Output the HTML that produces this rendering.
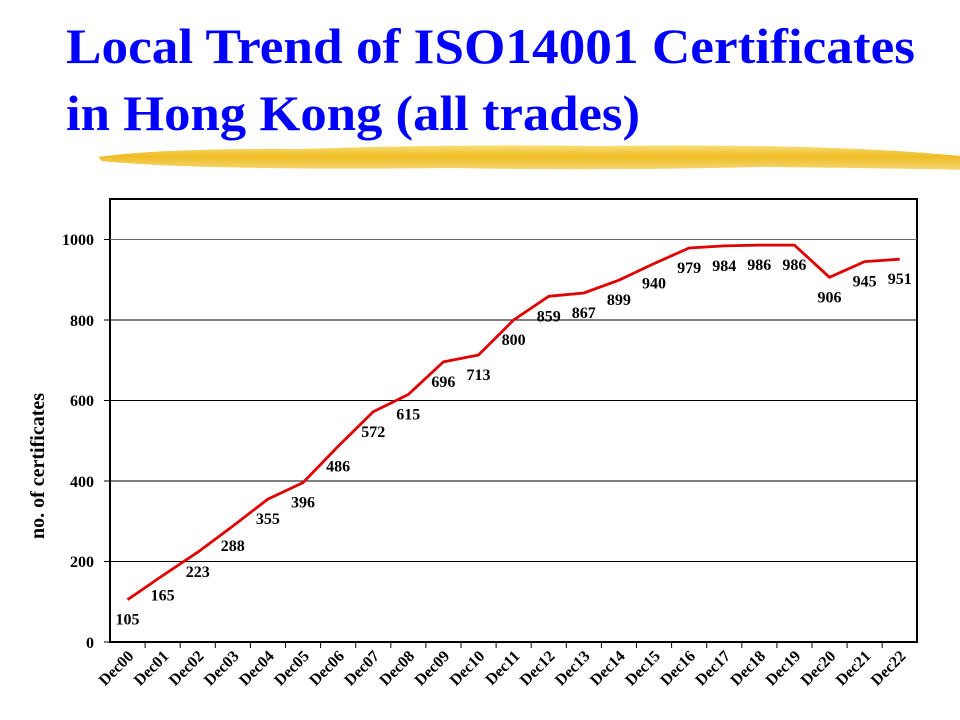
<!DOCTYPE html>
<html><head><meta charset="utf-8"><style>
html,body{margin:0;padding:0;background:#fff;}
svg{display:block;}
</style></head><body>
<svg width="960" height="720" viewBox="0 0 960 720" xmlns="http://www.w3.org/2000/svg">
<defs>
<linearGradient id="br" x1="0" y1="0" x2="0" y2="1">
<stop offset="0" stop-color="#f8dc70"/><stop offset="0.45" stop-color="#eeb818"/><stop offset="1" stop-color="#f5d670"/>
</linearGradient>
</defs>
<g font-family="'Liberation Serif',serif" font-weight="bold" fill="#0000ff" font-size="50">
<text x="66" y="63" textLength="849" lengthAdjust="spacingAndGlyphs">Local Trend of ISO14001 Certificates</text>
<text x="66" y="130" textLength="574" lengthAdjust="spacingAndGlyphs">in Hong Kong (all trades)</text>
</g>
<path d="M98,157 Q160,148 300,149 Q450,144 600,146 Q760,144 880,150 Q930,153 960,156 L960,170 Q880,168 760,167 Q600,171 450,168 Q300,170 180,166 Q130,164 102,161 Z" fill="url(#br)" opacity="0.95"/>
<rect x="110" y="199" width="807" height="443" fill="#fff" stroke="#000" stroke-width="2"/>
<g stroke="#000" stroke-width="1">
<line x1="110" y1="239.5" x2="917" y2="239.5" stroke="#666"/>
<line x1="110" y1="320" x2="917" y2="320"/>
<line x1="110" y1="400.5" x2="917" y2="400.5"/>
<line x1="110" y1="481" x2="917" y2="481"/>
<line x1="110" y1="561.5" x2="917" y2="561.5"/>
<line x1="104" y1="239.5" x2="110" y2="239.5"/><line x1="104" y1="320" x2="110" y2="320"/><line x1="104" y1="400.5" x2="110" y2="400.5"/><line x1="104" y1="481" x2="110" y2="481"/><line x1="104" y1="561.5" x2="110" y2="561.5"/><line x1="104" y1="642" x2="110" y2="642"/>
</g>
<g font-family="'Liberation Serif',serif" font-weight="bold" font-size="16" fill="#000" text-anchor="end">
<text x="94" y="245">1000</text><text x="94" y="326">800</text><text x="94" y="406">600</text><text x="94" y="487">400</text><text x="94" y="567">200</text><text x="94" y="648">0</text>
</g>
<text transform="translate(44,466) rotate(-90)" text-anchor="middle" font-family="'Liberation Serif',serif" font-weight="bold" font-size="20">no. of certificates</text>
<g id="chart"></g>
<script>
var v=[105,165,223,288,355,396,486,572,615,696,713,800,859,867,899,940,979,984,986,986,906,945,951];
var ns="http://www.w3.org/2000/svg",g=document.getElementById('chart'),pts=[];
function el(t,a,txt){var e=document.createElementNS(ns,t);for(var k in a)e.setAttribute(k,a[k]);if(txt)e.textContent=txt;g.appendChild(e);return e;}
for(var i=0;i<23;i++){
 var x=127.5+35.1*i,y=642-v[i]*0.4025;pts.push(x.toFixed(1)+','+y.toFixed(1));
 if(i<22)el('line',{x1:110+35.1*(i+1),y1:642,x2:110+35.1*(i+1),y2:648,stroke:'#000'});
 el('text',{x:x,y:y+25,'text-anchor':'middle','font-family':"'Liberation Serif',serif",'font-weight':'bold','font-size':'16'},String(v[i]));
 var lab='Dec'+(i<10?'0':'')+i;
 el('text',{transform:'translate('+(x+7)+',657) rotate(-45)','text-anchor':'end','font-family':"'Liberation Serif',serif",'font-weight':'bold','font-size':'16'},lab);
}
el('polyline',{points:pts.join(' '),fill:'none',stroke:'#e00000','stroke-width':'2.8','stroke-linejoin':'round'});
</script>
</svg>
</body></html>
